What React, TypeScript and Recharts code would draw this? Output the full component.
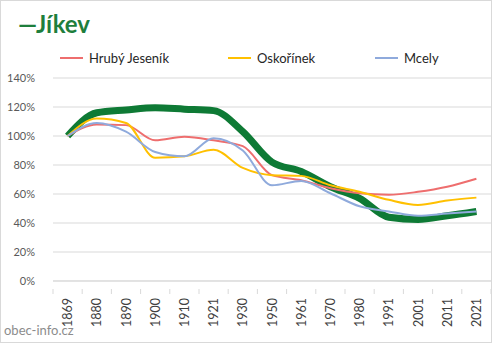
import React from "react";
import { CartesianGrid, Line, LineChart, XAxis, YAxis } from "recharts";

const years = ["1869", "1880", "1890", "1900", "1910", "1921", "1930", "1950", "1961", "1970", "1980", "1991", "2001", "2011", "2021"];
const jikev = [100, 116, 118, 119.5, 118.5, 117.5, 103, 82, 75.5, 65, 57, 44, 42.5, 45, 48];
const hrubyJesenik = [100, 108, 107.5, 97, 99.5, 97, 93, 73, 69.5, 64, 60.5, 59.5, 61.5, 65, 70.5];
const oskorinek = [100, 112, 109, 85, 86, 90.5, 78, 73, 72.5, 66, 61.5, 56, 52.5, 55.5, 57.5];
const mcely = [100, 109, 103, 89, 86, 98.5, 90, 66, 69, 60.5, 51.5, 48, 45, 46.5, 48];
const yTicks = [0, 20, 40, 60, 80, 100, 120, 140];

const chartData = years.map((year, i) => ({
  year,
  jikev: jikev[i],
  hruby: hrubyJesenik[i],
  oskorinek: oskorinek[i],
  mcely: mcely[i],
}));

const FONT = "Lato, 'Noto Sans', sans-serif";
const GREEN = "#0e7a35";
const RED = "#ee6e6e";
const YELLOW = "#ffc000";
const BLUE = "#8faadc";

const legendItems = [
  { name: "Hrubý Jeseník", color: RED, left: 60 },
  { name: "Oskořínek", color: YELLOW, left: 228 },
  { name: "Mcely", color: BLUE, left: 375 },
];

const HALF_BAND = 14.6;

function YearTick(props: any) {
  const { x, y, payload, index } = props;
  const last = index === years.length - 1;
  return (
    <g>
      <line x1={x - HALF_BAND} x2={x - HALF_BAND} y1={y} y2={y + 5} stroke="#d9d9d9" />
      {last && <line x1={x + HALF_BAND} x2={x + HALF_BAND} y1={y} y2={y + 5} stroke="#d9d9d9" />}
      <text
        x={0}
        y={0}
        transform={`translate(${x},${y + 9}) rotate(-90)`}
        textAnchor="end"
        dominantBaseline="central"
        fontSize={12.5}
        fill="#404040"
        fontFamily={FONT}
      >
        {payload.value}
      </text>
    </g>
  );
}

export default function App() {
  return (
    <div
      style={{
        position: "absolute",
        left: 0,
        top: 0,
        width: 490,
        height: 341,
        border: "1px solid #d9d9d9",
        background: "#fff",
      }}
    >
      <div style={{ position: "absolute", left: -1, top: -1 }}>
        <LineChart width={492} height={343} data={chartData} margin={{ top: 78, right: 1, left: 8, bottom: 22 }}>
          <CartesianGrid vertical={false} stroke="#d9d9d9" />
          <XAxis
            dataKey="year"
            interval={0}
            padding={{ left: HALF_BAND, right: HALF_BAND }}
            axisLine={{ stroke: "#d9d9d9" }}
            tickLine={false}
            tick={<YearTick />}
            height={40}
          />
          <YAxis
            domain={[0, 140]}
            ticks={yTicks}
            tickFormatter={(v: number) => `${v}%`}
            axisLine={false}
            tickLine={false}
            tickMargin={12}
            width={45}
            tick={{ fontSize: 11, fill: "#595959", fontFamily: FONT }}
          />
          <Line type="monotone" dataKey="jikev" name="Jíkev" stroke={GREEN} strokeWidth={7} dot={false} isAnimationActive={false} />
          <Line type="monotone" dataKey="hruby" name="Hrubý Jeseník" stroke={RED} strokeWidth={2} dot={false} isAnimationActive={false} />
          <Line type="monotone" dataKey="oskorinek" name="Oskořínek" stroke={YELLOW} strokeWidth={2} dot={false} isAnimationActive={false} />
          <Line type="monotone" dataKey="mcely" name="Mcely" stroke={BLUE} strokeWidth={2} dot={false} isAnimationActive={false} />
        </LineChart>
      </div>
      <div
        style={{
          position: "absolute",
          left: 17,
          top: 8,
          fontFamily: FONT,
          fontWeight: 700,
          fontSize: 24,
          color: "#1e7e3c",
          whiteSpace: "nowrap",
        }}
      >
        —Jíkev
      </div>
      <div style={{ position: "absolute", left: -1, top: 49, fontFamily: FONT, fontSize: 13, color: "#262626" }}>
        {legendItems.map((it) => (
          <div key={it.name} style={{ position: "absolute", left: it.left, top: 0, display: "flex", alignItems: "center", whiteSpace: "nowrap" }}>
            <span style={{ display: "inline-block", width: 23, height: 2, background: it.color, marginRight: 6 }} />
            <span>{it.name}</span>
          </div>
        ))}
      </div>
      <div
        style={{
          position: "absolute",
          left: 3,
          top: 321,
          fontFamily: FONT,
          fontSize: 13,
          color: "#8c8c8c",
        }}
      >
        obec-info.cz
      </div>
    </div>
  );
}
